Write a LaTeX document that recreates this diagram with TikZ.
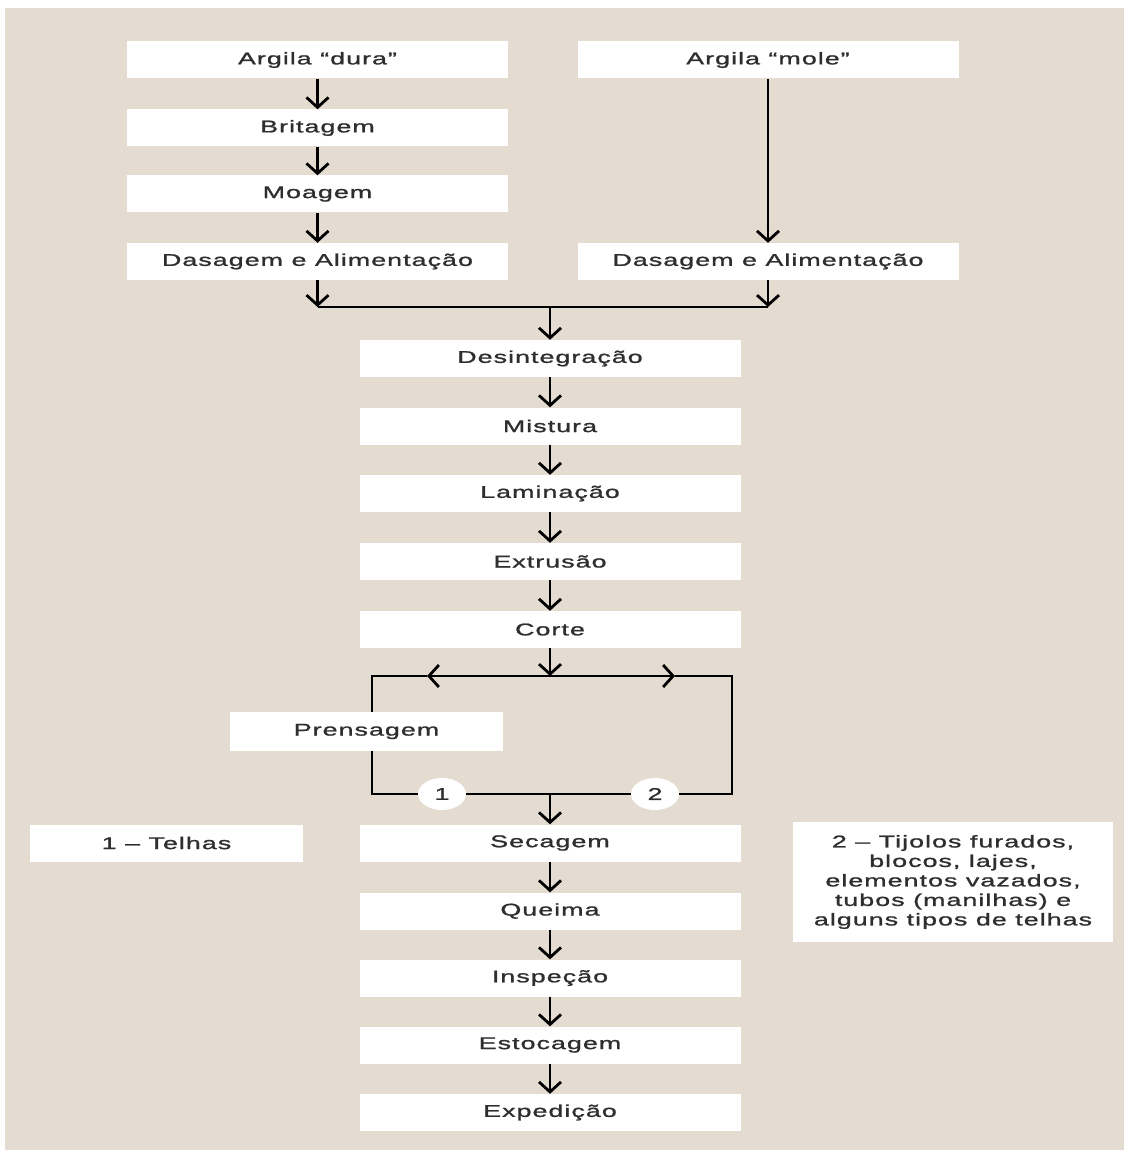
\documentclass[tikz,border=0pt]{standalone}
\usepackage{fontspec}
\setmainfont{Liberation Sans}[FakeStretch=1.58,LetterSpace=6,FakeBold=1.2]
\usetikzlibrary{arrows.meta,shapes.geometric}
\definecolor{bg}{HTML}{E4DBD1}
\definecolor{txt}{HTML}{2E2E2E}
\begin{document}
\begin{tikzpicture}[x=1pt,y=-1pt,
  box/.style={fill=white, text=txt, minimum height=37pt, inner sep=0pt,
    font=\fontsize{17}{19.5}\selectfont},
  wbox/.style={box, minimum width=381pt},
  arr/.style={line width=2.8pt, -{Straight Barb[length=10pt,width=22pt,line width=2.8pt]}},
  ln/.style={line width=2.8pt},
  circ/.style={ellipse, fill=white, text=txt, minimum width=48pt, minimum height=32pt,
    inner sep=0pt, font=\fontsize{17}{19.5}\selectfont}]
\useasboundingbox (0,0) rectangle (1129,1150);
\fill[bg] (5,8) rectangle (1124,1150);

% left column
\node[wbox] (dura) at (317.5,60) {Argila “dura”};
\node[wbox] (brit) at (317.5,128) {Britagem};
\node[wbox] (moag) at (317.5,194) {Moagem};
\node[wbox] (dasL) at (317.5,261.5) {Dasagem e Alimentação};
% right column
\node[wbox] (mole) at (768,60) {Argila “mole”};
\node[wbox] (dasR) at (768,261.5) {Dasagem e Alimentação};
% center column
\node[wbox] (desi) at (550,358.5) {Desintegração};
\node[wbox] (mist) at (550,426) {Mistura};
\node[wbox] (lami) at (550,493.5) {Laminação};
\node[wbox] (extr) at (550,561.5) {Extrusão};
\node[wbox] (cort) at (550,629.5) {Corte};
\node[wbox] (seca) at (550,843) {Secagem};
\node[wbox] (quei) at (550,911) {Queima};
\node[wbox] (insp) at (550,978) {Inspeção};
\node[wbox] (esto) at (550,1045) {Estocagem};
\node[wbox] (expe) at (550,1112.5) {Expedição};
% legends
\node[box, minimum width=273pt] (tel) at (166.5,843) {1 – Telhas};
\node[box, minimum width=320pt, minimum height=120pt, align=center] (leg) at (953,882)
  {2 – Tijolos furados,\\blocos, lajes,\\elementos vazados,\\tubos (manilhas) e\\alguns tipos de telhas};

% arrows top
\draw[arr] (dura) -- (brit);
\draw[arr] (brit) -- (moag);
\draw[arr] (moag) -- (dasL);
\draw[arr] (mole) -- (dasR);
\coordinate (ml) at (317.5,307);
\coordinate (mr) at (768,307);
\coordinate (mc) at (550,307);
\draw[arr] (dasL) -- (ml);
\draw[arr] (dasR) -- (mr);
\draw[ln] (ml) -- (mr);
\draw[arr] (mc) -- (desi);
\draw[arr] (desi) -- (mist);
\draw[arr] (mist) -- (lami);
\draw[arr] (lami) -- (extr);
\draw[arr] (extr) -- (cort);

% loop
\coordinate (tc) at (550,676);
\coordinate (tl) at (372,676);
\coordinate (tr) at (732,676);
\coordinate (bl) at (372,794);
\coordinate (br) at (732,794);
\coordinate (bc) at (550,794);
\coordinate (al) at (427,676);
\coordinate (ar) at (675,676);
\draw[arr] (cort) -- (tc);
\draw[ln] (al) -- (tl) -- (bl) -- (br) -- (tr) -- (ar);
\draw[arr] (tc) -- (al);
\draw[arr] (tc) -- (ar);
\draw[arr] (bc) -- (seca);

\node[box, minimum width=273pt, minimum height=39pt] (pren) at (366.5,731.5) {Prensagem};
\node[circ] (c1) at (442,794) {1};
\node[circ] (c2) at (655,794) {2};

% arrows bottom
\draw[arr] (seca) -- (quei);
\draw[arr] (quei) -- (insp);
\draw[arr] (insp) -- (esto);
\draw[arr] (esto) -- (expe);
\end{tikzpicture}
\end{document}
